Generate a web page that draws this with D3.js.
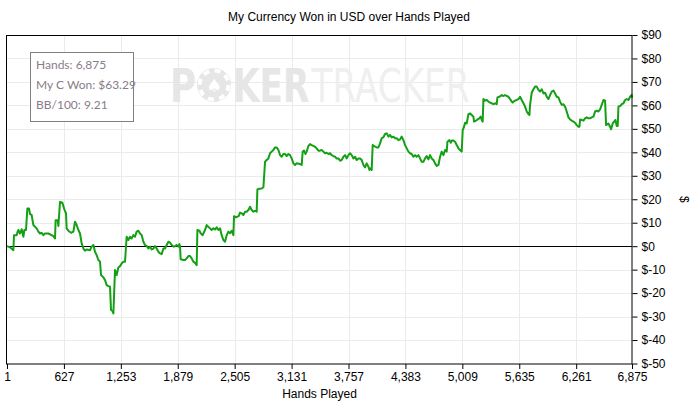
<!DOCTYPE html>
<html>
<head>
  <title>My Currency Won in USD over Hands Played</title>
  <style>
    body { margin: 0; background: #fff; }
  </style>
</head>
<body>
  <svg id="main" width="696" height="404"></svg>

  <script src="https://cdn.jsdelivr.net/npm/d3@7"></script>
  <script>
    // hands played at each sample, and cumulative USD won
    const hands = [
      1, 34, 71, 78, 107, 118, 126, 144, 162, 181, 192, 210, 225, 243, 254, 272, 291, 327, 346, 364,
      382, 401, 419, 456, 492, 511, 529, 536, 558, 566, 584, 610, 632, 650, 657, 676, 705, 731, 749, 767,
      786, 804, 822, 841, 859, 877, 914, 932, 951, 969, 987, 1006, 1024, 1035, 1061, 1079, 1097, 1116, 1134, 1145,
      1160, 1171, 1189, 1200, 1207, 1226, 1244, 1262, 1281, 1299, 1317, 1336, 1354, 1372, 1391, 1409, 1427, 1446, 1464, 1483,
      1501, 1519, 1538, 1556, 1574, 1593, 1611, 1629, 1647, 1666, 1684, 1702, 1721, 1739,
      1757, 1776, 1794, 1812, 1831, 1849, 1867, 1886, 1897, 1904, 1911, 1941, 1959, 1977, 1996, 2014, 2032, 2051, 2069, 2087,
      2095, 2117, 2131, 2153, 2179, 2197, 2216, 2234, 2252, 2271, 2289, 2307, 2326, 2344, 2362, 2381, 2399, 2417, 2436, 2454,
      2472, 2491, 2498, 2520, 2535, 2549, 2564, 2582, 2601, 2619, 2637, 2656, 2674, 2692, 2711, 2729, 2747, 2755, 2777, 2802,
      2821, 2839, 2857, 2876, 2894, 2912, 2931, 2949, 2967, 2986, 3004, 3022, 3041, 3059, 3077, 3096, 3114, 3132, 3151, 3169,
      3187, 3224, 3242, 3253, 3268, 3283, 3297, 3316, 3334, 3352, 3371, 3389, 3407, 3426, 3444,
      3462, 3481, 3499, 3517, 3536, 3554, 3572, 3591, 3609, 3627, 3646, 3664, 3682, 3701, 3719, 3737, 3756, 3774, 3792, 3811,
      3829, 3847, 3866, 3884, 3902, 3921, 3939, 3957, 3976, 3987, 4001, 4012, 4023, 4049, 4067, 4086, 4104, 4122, 4141, 4159,
      4177, 4196, 4214, 4232, 4251, 4269, 4287, 4306, 4324, 4342, 4361, 4379, 4397, 4416, 4434, 4452, 4471, 4489, 4507, 4526,
      4544, 4562, 4581, 4599, 4617, 4636, 4654, 4672, 4691, 4709, 4727, 4746, 4764, 4782, 4801, 4819, 4837, 4845, 4867, 4882,
      4893, 4911, 4929, 4947, 4966, 4984, 5002, 5013, 5028, 5039, 5057, 5076,
      5094, 5112, 5131, 5138, 5160, 5175, 5197, 5211, 5226, 5233, 5241, 5259, 5277, 5296, 5314, 5332, 5351, 5369, 5387, 5395,
      5417, 5442, 5461, 5479, 5497, 5516, 5534, 5552, 5563, 5571, 5589, 5607, 5626, 5644, 5662, 5681, 5699, 5717, 5736, 5747,
      5754, 5772, 5791, 5809, 5827, 5846, 5864, 5882, 5901, 5919, 5937, 5956, 5974, 5992, 6011, 6029, 6047, 6066, 6084, 6102,
      6121, 6139, 6157, 6176, 6194, 6212, 6231, 6249, 6267, 6286, 6297, 6304, 6322, 6341, 6359, 6377, 6396, 6414, 6432, 6451,
      6469, 6487, 6506, 6524, 6542, 6561, 6579, 6590, 6616, 6634, 6645, 6663, 6678, 6693, 6707, 6718, 6726, 6744, 6762, 6781,
      6799, 6817, 6836, 6854, 6872, 6875
    ]
    const won = [
      0.0, -0.5, -1.7, 4.7, 4.7, 6.2, 6.9, 5.4, 7.2, 4.0, 6.9, 6.9, 16.1, 16.1, 13.7, 13.3, 9.0, 7.6, 6.2, 5.4,
      5.7, 4.7, 5.4, 5.4, 4.7, 4.3, 3.3, 11.1, 11.1, 8.6, 18.9, 18.5, 15.7, 14.0, 7.6, 6.6, 5.7, 6.2, 10.4, 9.0,
      6.9, 5.4, 1.2, -1.0, -1.9, -1.4, -1.7, -0.2, 0.5, -2.4, -3.8, -5.9, -6.6, -12.3, -13.3, -14.4, -16.6, -17.0, -17.3, -27.2,
      -27.5, -28.7, -10.2, -11.6, -12.3, -9.1, -8.5, -7.4, -6.6, -6.6, 4.0, 2.6, 4.0, 3.3, 4.7, 4.0, 6.2, 6.6, 5.4, 4.7,
      1.9, 0.5, 0.0, -1.0, -0.2, -1.4, -1.0, 0.0, -1.0, -2.4, -3.1, -3.4, -1.0, -1.0,
      0.5, 1.9, 1.5, 0.5, -0.2, 0.0, 0.5, -0.2, 0.9, 0.0, -5.6, -5.9, -5.9, -5.2, -4.2, -4.2, -5.2, -6.6, -7.1, -8.1,
      6.9, 6.6, 5.5, 4.7, 6.9, 9.0, 8.2, 7.6, 6.9, 7.6, 7.1, 8.0, 6.9, 7.6, 4.7, 2.6, 1.9, 4.7, 6.2, 5.5,
      6.6, 4.7, 12.8, 12.3, 12.6, 12.8, 14.3, 14.0, 13.3, 14.7, 14.7, 15.4, 16.8, 15.4, 14.7, 15.1, 14.7, 24.2, 24.5, 24.6,
      25.1, 36.0, 36.7, 37.4, 39.6, 40.3, 41.0, 42.1, 42.1, 41.0, 38.8, 38.1, 39.3, 39.3, 38.4, 39.3, 38.8, 37.4, 35.3, 34.6,
      35.3, 35.0, 34.6, 40.3, 40.7, 39.3, 40.3, 42.7, 43.5, 43.1, 42.7, 42.4, 41.7, 40.7, 40.7,
      41.0, 40.3, 39.6, 39.8, 39.3, 39.6, 38.8, 38.4, 38.1, 37.4, 37.4, 36.4, 36.7, 38.1, 38.8, 37.4, 38.8, 39.6, 38.8, 37.4,
      38.1, 36.7, 37.4, 37.4, 36.7, 34.6, 33.6, 35.3, 33.9, 32.5, 33.2, 32.5, 43.1, 42.4, 42.1, 42.1, 43.8, 46.0, 46.4, 47.8,
      48.1, 46.7, 47.4, 46.4, 46.7, 46.0, 46.0, 45.2, 45.5, 46.7, 45.2, 43.1, 41.7, 40.3, 39.6, 39.3, 38.1, 38.8, 38.1, 38.8,
      37.4, 36.0, 36.0, 37.4, 38.4, 37.0, 38.8, 37.4, 36.7, 35.3, 34.2, 34.6, 38.1, 40.3, 38.8, 41.0, 40.3, 44.5, 45.2, 44.1,
      45.0, 45.0, 44.5, 43.1, 41.7, 41.0, 40.3, 49.5, 50.9, 52.6, 52.3, 56.3,
      56.6, 55.9, 55.2, 53.1, 53.5, 54.0, 54.5, 55.2, 53.5, 53.1, 62.7, 62.0, 62.3, 61.6, 61.2, 60.9, 60.5, 60.9, 60.5, 63.4,
      63.7, 64.4, 64.0, 64.4, 64.0, 63.7, 62.7, 61.6, 61.2, 61.6, 62.0, 62.3, 62.7, 63.7, 62.3, 60.9, 59.5, 57.4, 56.3, 55.9,
      60.2, 65.4, 66.9, 68.0, 68.0, 66.6, 65.9, 66.9, 65.1, 65.4, 63.7, 62.7, 64.4, 65.9, 66.3, 65.1, 63.7, 63.4, 61.6, 60.2,
      60.5, 59.5, 57.4, 54.9, 54.0, 53.5, 53.1, 52.6, 51.6, 50.9, 50.9, 54.0, 53.8, 53.5, 54.5, 54.9, 54.5, 54.5, 54.9, 55.2,
      57.4, 57.7, 57.4, 58.3, 60.2, 62.3, 62.0, 51.6, 52.3, 50.9, 49.8, 52.3, 53.1, 53.8, 51.2, 51.2, 59.5, 59.7, 60.5, 60.9,
      62.3, 62.7, 62.3, 63.7, 64.4, 63.29
    ]

    const xTicks = [1, 627, 1253, 1879, 2505, 3131, 3757, 4383, 5009, 5635, 6261, 6875]
    const yTicks = [-50, -40, -30, -20, -10, 0, 10, 20, 30, 40, 50, 60, 70, 80, 90]
    const legendLines = ['Hands: 6,875', 'My C Won: $63.29', 'BB/100: 9.21']

    const data = hands.map((h, i) => ({ hand: h, value: won[i] }))

    const svg = d3.select('#main')
    const plot = { left: 7, right: 632, top: 35, bottom: 363.5 }
    const font = '"Liberation Sans", Arial, sans-serif'

    const x = d3.scaleLinear().domain([1, 6875]).range([plot.left, plot.right])
    const y = d3.scaleLinear().domain([-50, 90]).range([plot.bottom, plot.top])

    // title
    svg.append('text')
      .attr('x', 349).attr('y', 21)
      .attr('text-anchor', 'middle')
      .attr('font-family', font).attr('font-size', 12)
      .attr('fill', '#000')
      .text('My Currency Won in USD over Hands Played')

    // grid
    const grid = svg.append('g').attr('stroke', '#ebebeb').attr('stroke-width', 1)
    grid.selectAll('.gy').data(yTicks.slice(1, -1)).join('line')
      .attr('x1', plot.left).attr('x2', plot.right)
      .attr('y1', d => Math.round(y(d)) + 0.5).attr('y2', d => Math.round(y(d)) + 0.5)
    grid.selectAll('.gx').data(xTicks.slice(1, -1)).join('line')
      .attr('x1', d => Math.round(x(d)) + 0.5).attr('x2', d => Math.round(x(d)) + 0.5)
      .attr('y1', plot.top).attr('y2', plot.bottom)

    // watermark
    const wm = svg.append('g').attr('font-family', '"DejaVu Sans", sans-serif')
    wm.append('text').attr('x', 170).attr('y', 102)
      .attr('font-size', 46).attr('font-weight', 'bold').attr('fill', '#e6e6e6')
      .attr('textLength', 26).attr('lengthAdjust', 'spacingAndGlyphs')
      .text('P')
    wm.append('circle').attr('cx', 214).attr('cy', 85).attr('r', 17).attr('fill', '#e6e6e6')
    wm.append('circle').attr('cx', 214).attr('cy', 85).attr('r', 14.5)
      .attr('fill', 'none').attr('stroke', '#fff').attr('stroke-width', 4)
      .attr('stroke-dasharray', '6 5.4')
    wm.append('circle').attr('cx', 214).attr('cy', 85).attr('r', 10).attr('fill', '#e6e6e6')
    wm.append('text').attr('x', 214).attr('y', 92).attr('text-anchor', 'middle')
      .attr('font-size', 18).attr('fill', '#fff').text('\u2660')
    const wmWord = wm.append('g')
      .attr('transform', 'translate(233,102) scale(0.745,1)')
      .append('text')
      .attr('font-size', 46)
    wmWord.append('tspan').attr('font-weight', 'bold').attr('fill', '#e6e6e6').text('KER')
    wmWord.append('tspan').attr('dx', 3).attr('fill', '#efefef').text('TRACKER')

    // zero line
    svg.append('line')
      .attr('x1', plot.left).attr('x2', plot.right)
      .attr('y1', Math.round(y(0)) + 0.5).attr('y2', Math.round(y(0)) + 0.5)
      .attr('stroke', '#000').attr('stroke-width', 1)

    // series
    const line = d3.line()
      .x(d => x(d.hand))
      .y(d => y(d.value))
    svg.append('path')
      .datum(data)
      .attr('fill', 'none')
      .attr('stroke', '#14a014')
      .attr('stroke-width', 2)
      .attr('stroke-linejoin', 'round')
      .attr('d', line)

    // frame
    svg.append('rect')
      .attr('x', plot.left - 0.5).attr('y', plot.top + 0.5)
      .attr('width', plot.right - plot.left + 0.5).attr('height', plot.bottom - plot.top)
      .attr('fill', 'none').attr('stroke', '#000').attr('stroke-width', 1)

    // axes
    const xAxis = d3.axisBottom(x)
      .tickValues(xTicks)
      .tickSize(5).tickPadding(3)
      .tickFormat(d3.format(','))
    svg.append('g')
      .attr('transform', `translate(0,${plot.bottom + 0.5})`)
      .call(xAxis)
      .call(g => g.select('.domain').remove())

    const yAxis = d3.axisRight(y)
      .tickValues(yTicks)
      .tickSize(5).tickPadding(4)
      .tickFormat(d => '$' + d)
    svg.append('g')
      .attr('transform', `translate(${plot.right + 0.5},0)`)
      .call(yAxis)
      .call(g => g.select('.domain').remove())

    svg.selectAll('.tick text')
      .attr('font-family', font).attr('font-size', 12).attr('fill', '#000')
    svg.selectAll('.tick line').attr('stroke', '#000')

    // axis titles
    svg.append('text')
      .attr('x', (plot.left + plot.right) / 2).attr('y', 398)
      .attr('text-anchor', 'middle')
      .attr('font-family', font).attr('font-size', 12)
      .text('Hands Played')
    svg.append('text')
      .attr('transform', `translate(680,${(plot.top + plot.bottom) / 2}) rotate(90)`)
      .attr('text-anchor', 'middle')
      .attr('font-family', font).attr('font-size', 12)
      .text('$')

    // info box
    const box = svg.append('g')
    box.append('rect')
      .attr('x', 30.5).attr('y', 52.5).attr('width', 103).attr('height', 69)
      .attr('fill', '#fff').attr('stroke', '#808080').attr('stroke-width', 1)
    box.selectAll('.info').data(legendLines).join('text')
      .attr('x', 36).attr('y', (d, i) => 69 + i * 20)
      .attr('font-family', 'Lato, "Open Sans", sans-serif').attr('font-size', 12)
      .attr('fill', '#8a7b8a')
      .text(d => d)
  </script>
</body>
</html>
